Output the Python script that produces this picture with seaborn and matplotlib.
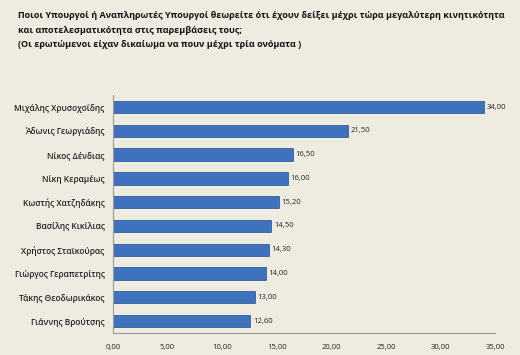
import numpy as np
import pandas as pd
import seaborn as sns
import matplotlib.pyplot as plt
from matplotlib.ticker import FuncFormatter

names = ['Μιχάλης Χρυσοχοΐδης', 'Άδωνις Γεωργιάδης', 'Νίκος Δένδιας', 'Νίκη Κεραμέως',
         'Κωστής Χατζηδάκης', 'Βασίλης Κικίλιας', 'Χρήστος Σταϊκούρας',
         'Γιώργος Γεραπετρίτης', 'Τάκης Θεοδωρικάκος', 'Γιάννης Βρούτσης']
values = [34.00, 21.50, 16.50, 16.00, 15.20, 14.50, 14.30, 14.00, 13.00, 12.60]
xticks = [0, 5, 10, 15, 20, 25, 30, 35]

title = ('Ποιοι Υπουργοί ή Αναπληρωτές Υπουργοί θεωρείτε ότι έχουν δείξει μέχρι τώρα μεγαλύτερη κινητικότητα\n'
         'και αποτελεσματικότητα στις παρεμβάσεις τους;\n'
         '(Οι ερωτώμενοι είχαν δικαίωμα να πουν μέχρι τρία ονόματα )')

df = pd.DataFrame({'name': names, 'value': values})

sns.set_style('white')
plt.rcParams['font.family'] = ['Open Sans', 'DejaVu Sans']

bg = '#eeece1'
fig = plt.figure(figsize=(5.2, 3.55), dpi=100, facecolor=bg)
ax = fig.add_axes([0.217, 0.062, 0.735, 0.67], facecolor=bg)

sns.barplot(data=df, x='value', y='name', orient='h', color='#3e72bd',
            saturation=1, width=0.52, edgecolor='#26508f', linewidth=0.5, ax=ax)

def fmt(v):
    return f'{v:.2f}'.replace('.', ',')

for i, v in enumerate(values):
    ax.text(v + 0.25, i, fmt(v), va='center', ha='left', fontsize=5.5,
            color='#222222')

ax.set_xlim(0, 35)
ax.set_xticks(xticks)
ax.xaxis.set_major_formatter(FuncFormatter(lambda v, p: fmt(v)))
ax.set_xlabel('')
ax.set_ylabel('')
ax.tick_params(axis='x', labelsize=5.5, colors='#222222', length=2, color='#999999', pad=6)
ax.tick_params(axis='y', labelsize=6, colors='#222222', length=0, pad=6)
for lab in ax.get_yticklabels():
    lab.set_fontweight('semibold')

for s in ['top', 'right']:
    ax.spines[s].set_visible(False)
for s in ['left', 'bottom']:
    ax.spines[s].set_color('#999999')
    ax.spines[s].set_linewidth(0.8)

fig.text(0.035, 0.968, title, ha='left', va='top', fontsize=6.5,
         fontweight='bold', color='#111111', linespacing=1.75)

fig.savefig('out.png', dpi=100, facecolor=bg)
